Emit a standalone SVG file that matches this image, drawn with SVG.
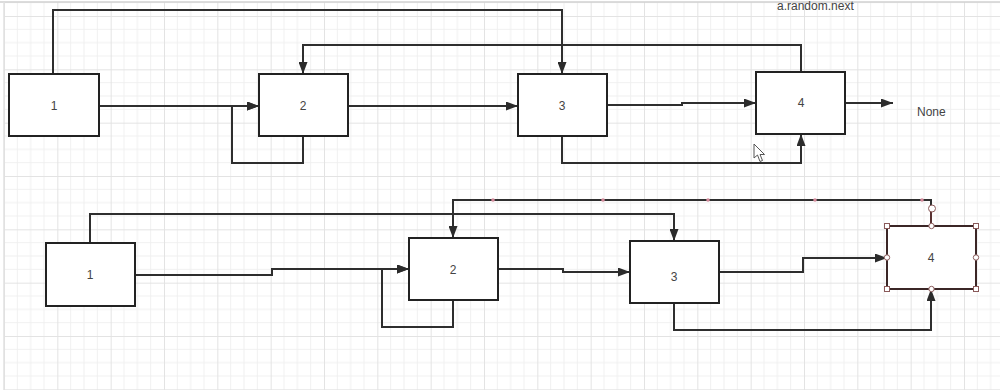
<svg xmlns="http://www.w3.org/2000/svg" width="1000" height="390" viewBox="0 0 1000 390">
  <defs>
    <pattern id="grid" x="4" y="16" width="53.333" height="53.333" patternUnits="userSpaceOnUse">
      <path d="M13.333,0V53.333M26.667,0V53.333M40,0V53.333M0,13.333H53.333M0,26.667H53.333M0,40H53.333" stroke="#f0f0f0" stroke-width="1" fill="none"/>
      <path d="M0.5,0V53.333M0,0.5H53.333" stroke="#e3e3e3" stroke-width="1" fill="none"/>
    </pattern>
    <marker id="arr" viewBox="0 0 12 9" refX="12" refY="4.5" markerWidth="12" markerHeight="9" markerUnits="userSpaceOnUse" orient="auto">
      <path d="M0,0L12,4.5L0,9z" fill="#2b2b2b"/>
    </marker>
    <style>
      .node rect{fill:#fff;stroke:#222;stroke-width:2}
      .node text{font-family:"Liberation Sans",Arial,sans-serif;font-size:12px;fill:#444;text-anchor:middle;dominant-baseline:central}
      .sel rect.body{stroke:#3b2626}
      .edge{fill:none;stroke:#2e2e2e;stroke-width:2;marker-end:url(#arr)}
      .h-sq{fill:#fff;stroke:#8a5a5a;stroke-width:1}
      .h-ci{fill:#fff;stroke:#8a5a5a;stroke-width:1}
      .wp{fill:#d3899a}
      .lbl{font-family:"Liberation Sans",Arial,sans-serif;font-size:12px;fill:#444}
    </style>
  </defs>
  <rect width="1000" height="390" fill="#fff"/>
  <rect x="4" y="2" width="996" height="388" fill="url(#grid)"/>
  <line x1="0" y1="2" x2="1000" y2="2" stroke="#d0d0d0" stroke-width="1.5"/>
  <line x1="4" y1="2" x2="4" y2="390" stroke="#e0e0e0" stroke-width="1.5"/>

  <text class="lbl" x="777" y="10" fill="#555">a.random.next</text>

  <g id="connectors">
    <path class="edge" d="M53,74V10H562V74"/>
    <path class="edge" d="M99,106H259"/>
    <path class="edge" d="M303,136V163H232V106H259"/>
    <path class="edge" d="M801,72V45H303V74"/>
    <path class="edge" d="M348,106H518"/>
    <path class="edge" d="M607,105H682V103H756"/>
    <path class="edge" d="M845,103H893"/>
    <path class="edge" d="M562,136V163H801V134"/>

    <path class="edge" d="M90,243V214H674V241"/>
    <path class="edge" d="M135,275H272V269H409"/>
    <path class="edge" d="M453,300V327H382V269H409"/>
    <path class="edge" d="M931,226V200H453V238"/>
    <path class="edge" d="M498,269H563V272H630"/>
    <path class="edge" d="M719,272H803V258H887"/>
    <path class="edge" d="M674,303V330H931V289"/>
  </g>

  <text class="lbl" x="917" y="116">None</text>

  <g id="t1" class="node"><rect x="9" y="74" width="90" height="62"/><text x="54" y="106">1</text></g>
  <g id="t2" class="node"><rect x="259" y="74" width="89" height="62"/><text x="303" y="106">2</text></g>
  <g id="t3" class="node"><rect x="518" y="74" width="89" height="62"/><text x="562" y="106">3</text></g>
  <g id="t4" class="node"><rect x="756" y="72" width="89" height="62"/><text x="801" y="103">4</text></g>

  <g id="b1" class="node"><rect x="46" y="243" width="89" height="63"/><text x="90" y="275">1</text></g>
  <g id="b2" class="node"><rect x="409" y="238" width="89" height="62"/><text x="453" y="270">2</text></g>
  <g id="b3" class="node"><rect x="630" y="241" width="89" height="62"/><text x="674" y="277">3</text></g>
  <g id="b4" class="node sel"><rect class="body" x="887" y="226" width="89" height="63"/><text x="931" y="258">4</text></g>

  <g id="selection">
    <circle class="wp" cx="493" cy="200" r="1.8"/>
    <circle class="wp" cx="603" cy="200" r="1.8"/>
    <circle class="wp" cx="708" cy="200" r="1.8"/>
    <circle class="wp" cx="815" cy="200" r="1.8"/>
    <circle class="wp" cx="922" cy="200" r="1.8"/>
    <line x1="931" y1="212" x2="931" y2="226" stroke="#6a3434" stroke-width="1.5"/>
    <circle class="h-ci" cx="932" cy="208.5" r="3.5"/>
    <rect class="h-sq" x="884.5" y="223.5" width="5" height="5"/>
    <rect class="h-sq" x="973.5" y="223.5" width="5" height="5"/>
    <rect class="h-sq" x="884.5" y="286.5" width="5" height="5"/>
    <rect class="h-sq" x="973.5" y="286.5" width="5" height="5"/>
    <circle class="h-ci" cx="931.5" cy="226" r="2.7"/>
    <circle class="h-ci" cx="887" cy="257.5" r="2.7"/>
    <circle class="h-ci" cx="976" cy="257.5" r="2.7"/>
    <circle class="h-ci" cx="931.5" cy="289" r="2.7"/>
  </g>

  <path d="M754,144L754,158L757.5,155L760,161.5L762.5,160.5L760,154.5L764.5,154.5Z" fill="#fff" stroke="#555" stroke-width="1"/>
</svg>
